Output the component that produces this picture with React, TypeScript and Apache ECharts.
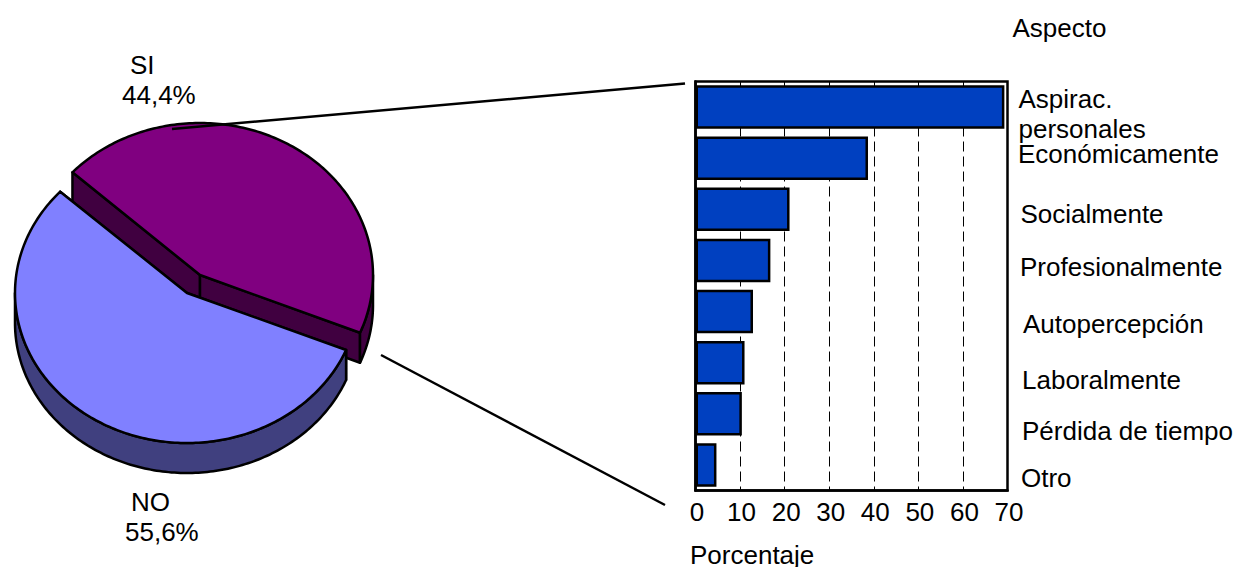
import React, { useEffect, useRef } from "react";
import * as echarts from "echarts";

const sliceNames = ["SI", "NO"];
const sliceValues = [44.4, 55.6];
const sliceLabels = ["44,4%", "55,6%"];

const categories = [
  "Aspirac.\npersonales",
  "Económicamente",
  "Socialmente",
  "Profesionalmente",
  "Autopercepción",
  "Laboralmente",
  "Pérdida de tiempo",
  "Otro",
];
const barValues = [69.3, 38.7, 21.1, 16.8, 12.9, 11, 10.4, 4.7];
const xTicks = [0, 10, 20, 30, 40, 50, 60, 70];

const FONT = "'Liberation Sans', Arial, sans-serif";
const FS = 26;

// layout only: [left, baseline] of each category text
const categoryPos = [
  [1018.5, 107.5],
  [1018, 162.7],
  [1020.5, 222.7],
  [1020, 275],
  [1023, 332.7],
  [1022, 388.3],
  [1022, 439],
  [1021, 486.7],
];

const sliceLayout = [
  { cx: 200, cy: 275, rx: 173, ry: 152, top: "#800080", side: "#400040" },
  { cx: 187, cy: 293, rx: 172, ry: 150, top: "#8080FF", side: "#40407F" },
];
const DEPTH = 30;
const START_ANGLE = 222.5;

function text(value: string, x: number, baseline: number) {
  return {
    type: "text",
    x,
    y: baseline - FS * 0.36 + 1,
    z: 20,
    style: { text: value, fill: "#000", font: `${FS}px ${FONT}`, textAlign: "left", textVerticalAlign: "middle" },
  };
}

function line(x1: number, y1: number, x2: number, y2: number) {
  return {
    type: "line",
    z: 20,
    shape: { x1, y1, x2, y2 },
    style: { stroke: "#000", lineWidth: 2.5 },
  };
}

function renderSlice(params: any, api: any) {
  const i = params.dataIndex;
  const total = sliceValues.reduce((a, b) => a + b, 0);
  const before = sliceValues.slice(0, i).reduce((a, b) => a + b, 0);
  const a0 = START_ANGLE + (before / total) * 360;
  const a1 = a0 + (api.value(0) / total) * 360;
  const { cx, cy, rx, ry, top, side } = sliceLayout[i];
  const pt = (deg: number, dy = 0) => {
    const r = (deg * Math.PI) / 180;
    return [cx + rx * Math.cos(r), cy + ry * Math.sin(r) + dy];
  };
  const arc = (from: number, to: number, dy = 0) => {
    const out: number[][] = [];
    const n = Math.max(2, Math.ceil(Math.abs(to - from)));
    for (let k = 0; k <= n; k++) out.push(pt(from + ((to - from) * k) / n, dy));
    return out;
  };
  const stroke = { stroke: "#000", lineWidth: 2.5, lineJoin: "round" };
  const children: any[] = [];
  const face = (deg: number) => {
    const p = pt(deg);
    children.push({
      type: "polygon",
      shape: { points: [[cx, cy], p, [p[0], p[1] + DEPTH], [cx, cy + DEPTH]] },
      style: { fill: side, ...stroke },
    });
  };
  face(a0);
  face(a1);
  // outer wall: only the part of the rim on the near (lower) half of the ellipse
  for (const [lo, hi] of [[0, 180], [360, 540]]) {
    const from = Math.max(a0, lo);
    const to = Math.min(a1, hi);
    if (to > from) {
      children.push({
        type: "polygon",
        shape: { points: [...arc(from, to), ...arc(to, from, DEPTH)] },
        style: { fill: side, ...stroke },
      });
    }
  }
  children.push({
    type: "polygon",
    shape: { points: [[cx, cy], ...arc(a0, a1)] },
    style: { fill: top, ...stroke },
  });
  return { type: "group", children };
}

export default function App() {
  const ref = useRef<HTMLDivElement>(null);
  useEffect(() => {
    const chart = echarts.init(ref.current!, undefined, { renderer: "svg" });
    chart.setOption({
      animation: false,
      backgroundColor: "#fff",
      grid: {
        left: 695.5,
        top: 81.5,
        width: 312,
        height: 409,
        show: true,
        borderColor: "#000",
        borderWidth: 2.5,
        backgroundColor: "transparent",
      },
      xAxis: {
        type: "value",
        min: xTicks[0],
        max: xTicks[xTicks.length - 1],
        interval: 10,
        axisLine: { show: true, lineStyle: { color: "#000", width: 2.5 } },
        axisTick: { show: false },
        axisLabel: { color: "#000", fontFamily: FONT, fontSize: FS, margin: 8, padding: [0, 0, 0, 3] },
        splitLine: { show: true, lineStyle: { color: "#000", width: 1, type: [10, 5] } },
      },
      yAxis: {
        type: "category",
        inverse: true,
        data: categories,
        axisLine: { show: true, lineStyle: { color: "#000", width: 2.5 } },
        axisTick: { show: false },
        axisLabel: { show: false },
        splitLine: { show: false },
      },
      series: [
        {
          type: "bar",
          data: barValues,
          barWidth: 43.5,
          itemStyle: { color: "#0040C0", borderColor: "#000", borderWidth: 2.5 },
          z: 3,
        },
        {
          type: "custom",
          coordinateSystem: "none",
          data: sliceValues.map((v) => [v]),
          encode: { value: 0 },
          renderItem: renderSlice,
          z: 4,
          silent: true,
        },
      ],
      graphic: {
        elements: [
          line(172, 129, 685, 83.5),
          line(381, 355, 665, 505),
          text(sliceNames[0], 130, 73),
          text(sliceLabels[0], 122, 103.3),
          text(sliceNames[1], 131, 510),
          text(sliceLabels[1], 125, 540),
          text("Aspecto", 1012.5, 36),
          text("Porcentaje", 690, 563.3),
          ...categories.flatMap((c, i) =>
            c.split("\n").map((part, k) =>
              text(part, categoryPos[i][0], categoryPos[i][1] + k * 30)
            )
          ),
        ],
      },
    });
    return () => chart.dispose();
  }, []);
  return <div ref={ref} style={{ position: "absolute", left: 0, top: 0, width: 1238, height: 567 }} />;
}
